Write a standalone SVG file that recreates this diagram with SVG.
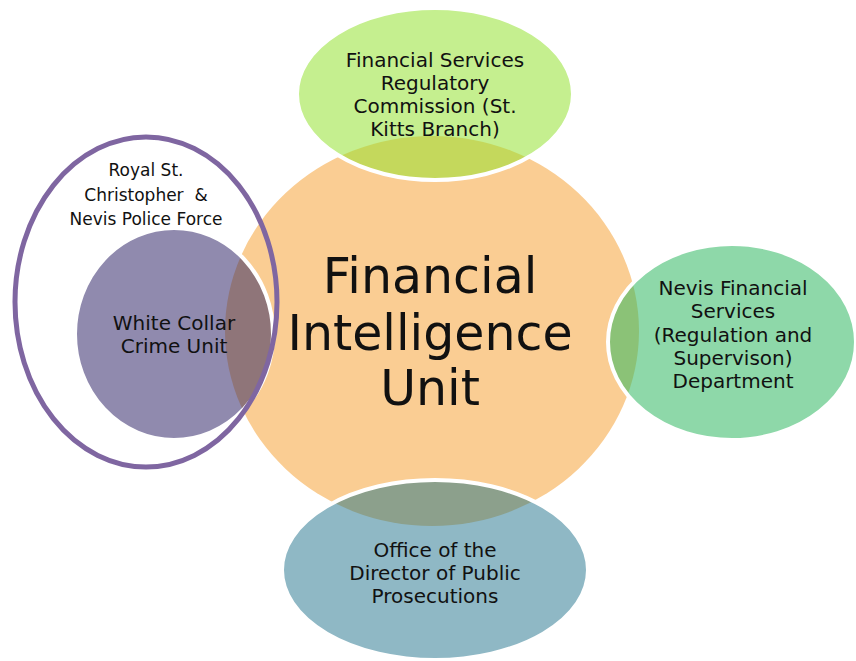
<svg xmlns="http://www.w3.org/2000/svg" width="856" height="661" viewBox="0 0 856 661">
<style>
text{font-family:"DejaVu Sans","Liberation Sans",sans-serif;fill:#111;text-anchor:middle}
.s{font-size:17px}
.m{font-size:20px}
.c{font-size:49px}
.edge{fill:none;stroke:#fff;stroke-width:4}
</style>
<defs>
<clipPath id="co"><ellipse cx="432" cy="331" rx="207" ry="195"/></clipPath>
</defs>
<rect width="856" height="661" fill="#fff"/>
<g id="fiu">
<ellipse cx="432" cy="331" rx="207" ry="195" fill="#FACD93"/>
</g>
<g id="fsrc">
<ellipse cx="435" cy="94" rx="138" ry="86" fill="#C5EF8F"/>
<ellipse cx="435" cy="94" rx="138" ry="86" fill="#C4D85C" clip-path="url(#co)"/>
<ellipse class="edge" cx="435" cy="94" rx="138" ry="86"/>
<text class="m" x="435" y="67">Financial Services</text>
<text class="m" x="435" y="90">Regulatory</text>
<text class="m" x="435" y="113">Commission (St.</text>
<text class="m" x="435" y="136">Kitts Branch)</text>
</g>
<g id="nfsd">
<ellipse cx="732" cy="342" rx="124" ry="98" fill="#8ED8A9"/>
<ellipse cx="732" cy="342" rx="124" ry="98" fill="#8BC277" clip-path="url(#co)"/>
<ellipse class="edge" cx="732" cy="342" rx="124" ry="98"/>
<text class="m" x="733" y="295">Nevis Financial</text>
<text class="m" x="733" y="318">Services</text>
<text class="m" x="733" y="342">(Regulation and</text>
<text class="m" x="733" y="365">Supervison)</text>
<text class="m" x="733" y="388">Department</text>
</g>
<g id="odpp">
<ellipse cx="435" cy="570" rx="153" ry="90" fill="#8FB8C5"/>
<ellipse cx="435" cy="570" rx="153" ry="90" fill="#8CA08C" clip-path="url(#co)"/>
<ellipse class="edge" cx="435" cy="570" rx="153" ry="90"/>
<text class="m" x="435" y="557">Office of the</text>
<text class="m" x="435" y="580">Director of Public</text>
<text class="m" x="435" y="603">Prosecutions</text>
</g>
<g id="wccu">
<ellipse cx="174" cy="334" rx="99" ry="106" fill="#908AAE"/>
<ellipse cx="174" cy="334" rx="99" ry="106" fill="#8F7579" clip-path="url(#co)"/>
<ellipse class="edge" cx="174" cy="334" rx="99" ry="106"/>
<text class="m" x="174" y="330">White Collar</text>
<text class="m" x="174" y="353">Crime Unit</text>
</g>
<g id="police">
<ellipse cx="146" cy="302" rx="131" ry="165" fill="none" stroke="#7F66A1" stroke-width="5"/>
<text class="s" x="146" y="176">Royal St.</text>
<text class="s" x="146" y="201" xml:space="preserve">Christopher  &amp;</text>
<text class="s" x="146" y="225">Nevis Police Force</text>
</g>
<g id="fiu-label">
<text class="c" x="430" y="293">Financial</text>
<text class="c" x="430" y="350">Intelligence</text>
<text class="c" x="430" y="405">Unit</text>
</g>
</svg>
